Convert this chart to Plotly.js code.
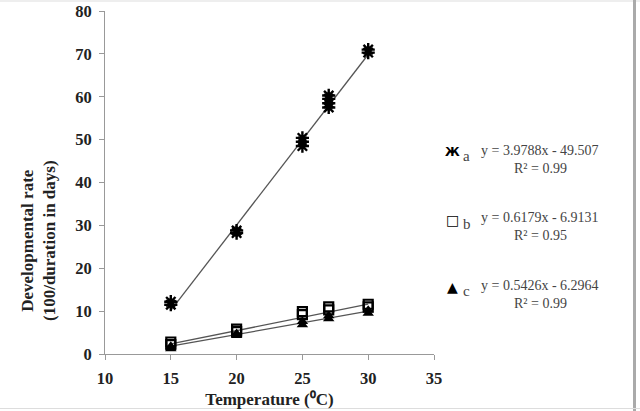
<!DOCTYPE html>
<html>
<head>
<meta charset="utf-8">
<script src="https://cdn.plot.ly/plotly-3.0.1.min.js"></script>
<style>
body{margin:0;padding:0;background:#fff;}
#chart{width:640px;height:411px;}
</style>
</head>
<body>
<div id="chart"></div>
<script>
// ================= DATA =================
const tempA = [15,15,20,20,25,25,25,27,27,27,27,30,30];
const rateA = [11.5,12.2,28.2,28.8,48.5,49.5,50.4,57.5,58.5,59.5,60.3,70.3,71.0];

const tempB = [15,15,20,20,25,25,27,27,30,30];
const rateB = [2.2,2.8,5.2,5.8,9.2,9.9,10.3,11.0,11.0,11.6];

const tempC = [15,15,20,20,25,25,27,27,30,30];
const rateC = [1.2,1.8,4.3,4.8,6.8,7.6,8.2,8.9,9.5,10.2];

// trendline coefficients (slope, intercept) and R2 as printed
const seriesNames = ["a","b","c"];
const slopes = [3.9788,0.6179,0.5426];
const intercepts = [-49.507,-6.9131,-6.2964];
const r2 = ["0.99","0.95","0.99"];
const fitRange = [15,30];

// ================= HELPERS =================
// pixel -> paper coordinates (plot area 105..434 x, 11..354 y)
function px(x){ return (x-105)/329; }
function py(y){ return (354-y)/343; }

function fitLine(i){
  return {
    x: fitRange,
    y: fitRange.map(t => slopes[i]*t + intercepts[i]),
    mode: "lines",
    type: "scatter",
    line: {color:"#555", width:1.3},
    hoverinfo: "skip",
    showlegend: false
  };
}

// ================= TRACES =================
let traces = [
  fitLine(0), fitLine(1), fitLine(2),
  {
    x: tempB, y: rateB, mode: "markers", type: "scatter", name: "b",
    marker: {symbol:"square-open", size:9, color:"#000", line:{width:2.2, color:"#000"}}
  },
  {
    x: tempC, y: rateC, mode: "markers", type: "scatter", name: "c",
    marker: {symbol:"triangle-up", size:10, color:"#000"}
  },
  {
    x: tempA, y: rateA, mode: "markers", type: "scatter", name: "a",
    marker: {symbol:"asterisk-open", size:11, color:"#000", line:{width:2.4, color:"#000"}}
  }
];

// ================= LEGEND (annotations) =================
const serif = "Liberation Serif, Times New Roman, serif";
const legendSymbols = ["Ж","□","▲"];
const legendY = [152,220,287];
let annotations = [];

legendY.forEach((yy,i)=>{
  annotations.push({
    xref:"paper", yref:"paper", x:px(452), y:py(yy), xanchor:"center", yanchor:"middle",
    text: legendSymbols[i], showarrow:false,
    font:{family:"DejaVu Sans", size: i===0 ? 12 : 14, color:"#000", weight: i===0 ? "bold" : "normal"}
  });
  annotations.push({
    xref:"paper", yref:"paper", x:px(461), y:py(yy+4), xanchor:"left", yanchor:"middle",
    text: seriesNames[i], showarrow:false,
    font:{family:serif, size:15, color:"#444"}
  });
  let sign = intercepts[i] < 0 ? " - " : " + ";
  annotations.push({
    xref:"paper", yref:"paper", x:px(479), y:py(yy-2), xanchor:"left", yanchor:"middle",
    text: "y = " + slopes[i] + "x" + sign + Math.abs(intercepts[i]), showarrow:false,
    font:{family:serif, size:14, color:"#444"}
  });
  annotations.push({
    xref:"paper", yref:"paper", x:px(540), y:py(yy+16), xanchor:"center", yanchor:"middle",
    text: "R² = " + r2[i], showarrow:false,
    font:{family:serif, size:14, color:"#444"}
  });
});

// y axis title (two lines, placed lower than the axis centre)
annotations.push({
  xref:"paper", yref:"paper", x:px(38), y:py(241), xanchor:"center", yanchor:"middle",
  text:"Developmental rate<br>(100/duration in days)", textangle:-90, showarrow:false,
  font:{family:serif, size:17, color:"#222", weight:"bold"}
});

// ================= LAYOUT =================
let axisCommon = {
  showline:true, linecolor:"#999", linewidth:1,
  ticks:"outside", tickcolor:"#999", ticklen:5, tickwidth:1,
  showgrid:false, zeroline:false,
  tickfont:{family:serif, size:16.5, color:"#222", weight:"bold"},
  ticklabelstandoff:4
};

let layout = {
  width:640, height:411,
  margin:{l:105, r:206, t:11, b:57},
  paper_bgcolor:"#fff", plot_bgcolor:"#fff",
  showlegend:false,
  xaxis: Object.assign({}, axisCommon, {
    range:[10,35], dtick:5, tick0:10,
    title:{text:"Temperature (⁰C)", standoff:6, font:{family:serif, size:17, color:"#222", weight:"bold"}}
  }),
  yaxis: Object.assign({}, axisCommon, {
    range:[0,80], dtick:10, tick0:0
  }),
  annotations: annotations,
  shapes: [
    {type:"line", xref:"paper", yref:"paper", x0:px(0), x1:px(640), y0:py(1), y1:py(1), line:{color:"#ddd", width:1}},
    {type:"line", xref:"paper", yref:"paper", x0:px(634.5), x1:px(634.5), y0:py(0), y1:py(411), line:{color:"#aaa", width:3}},
    {type:"line", xref:"paper", yref:"paper", x0:px(0), x1:px(640), y0:py(408.5), y1:py(408.5), line:{color:"#ddd", width:1}}
  ]
};

Plotly.newPlot("chart", traces, layout, {displayModeBar:false, staticPlot:true});
</script>
</body>
</html>
